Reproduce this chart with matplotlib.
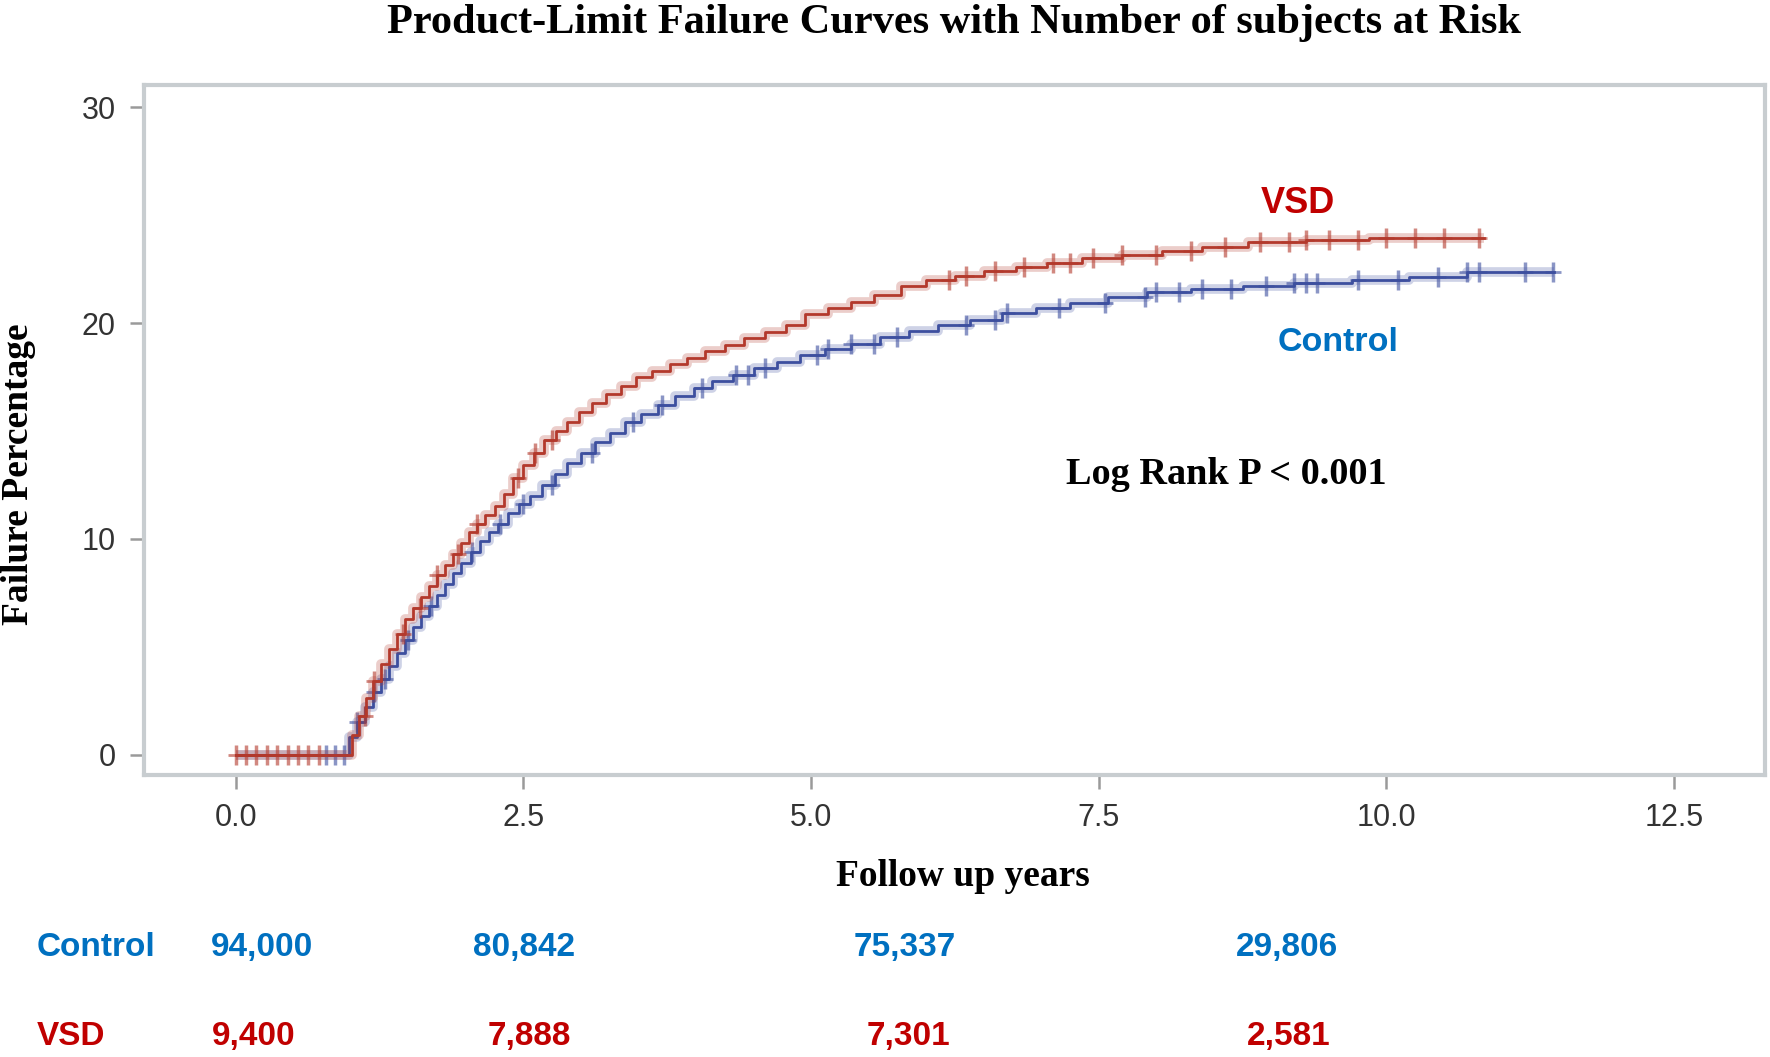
import numpy as np
import matplotlib
matplotlib.use("Agg")
import matplotlib.pyplot as plt

# step curves (years, failure %)
vsd_t = [0, 1.01, 1.07, 1.13, 1.19, 1.26, 1.33, 1.40, 1.47, 1.54, 1.61, 1.68, 1.75,
         1.82, 1.89, 1.96, 2.03, 2.10, 2.17, 2.25, 2.33, 2.41, 2.50, 2.59, 2.68, 2.78,
         2.88, 2.98, 3.10, 3.22, 3.35, 3.48, 3.62, 3.77, 3.92, 4.08, 4.25, 4.42, 4.60,
         4.78, 4.95, 5.15, 5.35, 5.55, 5.78, 6.00, 6.25, 6.50, 6.78, 7.05, 7.35, 7.70,
         8.05, 8.40, 8.80, 9.30, 9.85]
vsd_v = [0, 0.9, 1.8, 2.6, 3.4, 4.2, 4.9, 5.6, 6.3, 6.8, 7.3, 7.8, 8.3,
         8.8, 9.3, 9.8, 10.3, 10.7, 11.1, 11.5, 12.1, 12.8, 13.4, 14.0, 14.6, 15.0,
         15.4, 15.9, 16.3, 16.7, 17.1, 17.5, 17.8, 18.1, 18.4, 18.7, 19.0, 19.3, 19.6,
         19.9, 20.4, 20.7, 21.0, 21.3, 21.7, 22.0, 22.2, 22.4, 22.6, 22.8, 23.0, 23.15,
         23.35, 23.55, 23.75, 23.85, 23.95]
vsd_end = 10.85
vsd_cens = [0.0, 0.09, 0.18, 0.27, 0.36, 0.45, 0.54, 0.63, 0.72, 1.12, 1.2, 1.45,
            1.6, 1.75, 1.93, 2.1, 2.45, 2.6, 2.75, 6.2, 6.35, 6.6, 6.85, 7.1, 7.25,
            7.45, 7.7, 8.0, 8.3, 8.6, 8.9, 9.15, 9.3, 9.5, 9.75, 10.0, 10.25, 10.5, 10.8]

ctl_t = [0, 0.98, 1.05, 1.12, 1.19, 1.26, 1.33, 1.40, 1.47, 1.54, 1.61, 1.68, 1.75,
         1.82, 1.89, 1.96, 2.04, 2.12, 2.20, 2.28, 2.37, 2.46, 2.56, 2.66, 2.77, 2.88,
         3.00, 3.12, 3.25, 3.38, 3.52, 3.67, 3.82, 3.98, 4.14, 4.32, 4.50, 4.70, 4.90,
         5.12, 5.35, 5.60, 5.85, 6.10, 6.38, 6.66, 6.95, 7.25, 7.58, 7.92, 8.30, 8.75,
         9.20, 9.70, 10.20, 10.70]
ctl_v = [0, 0.8, 1.5, 2.2, 2.9, 3.5, 4.1, 4.7, 5.3, 5.9, 6.4, 6.9, 7.4,
         7.9, 8.4, 8.9, 9.4, 9.9, 10.3, 10.7, 11.2, 11.6, 12.0, 12.5, 13.0, 13.5,
         14.0, 14.5, 14.9, 15.4, 15.8, 16.2, 16.6, 17.0, 17.3, 17.6, 17.9, 18.2, 18.5,
         18.8, 19.05, 19.35, 19.65, 19.9, 20.15, 20.45, 20.7, 20.95, 21.2, 21.45, 21.6, 21.7,
         21.85, 22.0, 22.15, 22.35]
ctl_end = 11.46
ctl_cens = [0.78, 0.86, 0.94, 1.05, 1.2, 1.3, 1.5, 1.7, 2.05, 2.3, 2.5, 2.75, 3.1,
            3.45, 3.7, 4.05, 4.35, 4.45, 4.6, 5.05, 5.15, 5.35, 5.55, 5.75, 6.35, 6.6,
            6.7, 7.15, 7.55, 7.9, 8.0, 8.2, 8.4, 8.65, 8.95, 9.2, 9.3, 9.4, 9.75, 10.1,
            10.45, 10.7, 10.8, 11.2, 11.45]

# numbers at risk
risk_ctl = ["94,000", "80,842", "75,337", "29,806"]
risk_vsd = ["9,400", "7,888", "7,301", "2,581"]

RED_LINE = "#b3392c"
BLUE_LINE = "#3d4f9f"
RED_TXT = "#c00000"
BLUE_TXT = "#0070c0"

fig = plt.figure(figsize=(17.7, 10.57), dpi=100)
ax = fig.add_axes([0.0812, 0.2668, 0.916, 0.653])


def draw_curve(t, v, t_end, cens, color):
    tt = np.append(t, t_end)
    vv = np.append(v, v[-1])
    ax.step(tt, vv, where="post", color=color, lw=7, alpha=0.25, solid_capstyle="butt")
    ax.step(tt, vv, where="post", color=color, lw=2)
    idx = np.searchsorted(t, cens, side="right") - 1
    cy = np.array(v)[idx]
    ax.plot(cens, cy, ls="none", marker="|", ms=14, mew=2.5, color=color, alpha=0.6)
    ax.plot(cens, cy, ls="none", marker="_", ms=12, mew=2, color=color, alpha=0.6)


draw_curve(ctl_t, ctl_v, ctl_end, ctl_cens, BLUE_LINE)
draw_curve(vsd_t, vsd_v, vsd_end, vsd_cens, RED_LINE)

ax.set_xlim(-0.8, 13.29)
ax.set_ylim(-0.95, 31.05)
ax.set_xticks([0, 2.5, 5, 7.5, 10, 12.5])
ax.set_xticklabels(["0.0", "2.5", "5.0", "7.5", "10.0", "12.5"])
ax.set_yticks([0, 10, 20, 30])
for s in ax.spines.values():
    s.set_color("#c8cdd0")
    s.set_linewidth(3)
ax.tick_params(colors="#9a9a9a", length=10, width=1.8, labelcolor="#333333",
               labelsize=22, pad=10)
for lab in ax.get_xticklabels() + ax.get_yticklabels():
    lab.set_family("Liberation Sans")

serif = "Liberation Serif"
sans = "Liberation Sans"
fig.text(0.539, 0.978, "Product-Limit Failure Curves with Number of subjects at Risk",
         ha="center", va="center", family=serif, weight="bold", fontsize=30.5)
fig.text(0.0106, 0.551, "Failure Percentage", rotation=90, ha="center", va="center",
         family=serif, weight="bold", fontsize=27)
fig.text(0.544, 0.171, "Follow up years", ha="center", va="center",
         family=serif, weight="bold", fontsize=27)
fig.text(0.6927, 0.551, "Log Rank P < 0.001", ha="center", va="center",
         family=serif, weight="bold", fontsize=27.5)
fig.text(0.7335, 0.8075, "VSD", ha="center", va="center", family=sans,
         weight="bold", fontsize=26, color=RED_TXT)
fig.text(0.756, 0.676, "Control", ha="center", va="center", family=sans,
         weight="bold", fontsize=24.5, color=BLUE_TXT)

# risk table
fig.text(0.0543, 0.1037, "Control", ha="center", va="center", family=sans,
         weight="bold", fontsize=24, color=BLUE_TXT)
fig.text(0.0403, 0.0193, "VSD", ha="center", va="center", family=sans,
         weight="bold", fontsize=24, color=RED_TXT)
ctl_x = [0.1482, 0.2958, 0.5112, 0.7271]
vsd_x = [0.1431, 0.299, 0.513, 0.7278]
for x, s in zip(ctl_x, risk_ctl):
    fig.text(x, 0.1037, s, ha="center", va="center", family=sans,
             weight="bold", fontsize=24, color=BLUE_TXT)
for x, s in zip(vsd_x, risk_vsd):
    fig.text(x, 0.0193, s, ha="center", va="center", family=sans,
             weight="bold", fontsize=24, color=RED_TXT)

fig.savefig("out.png", dpi=100)
